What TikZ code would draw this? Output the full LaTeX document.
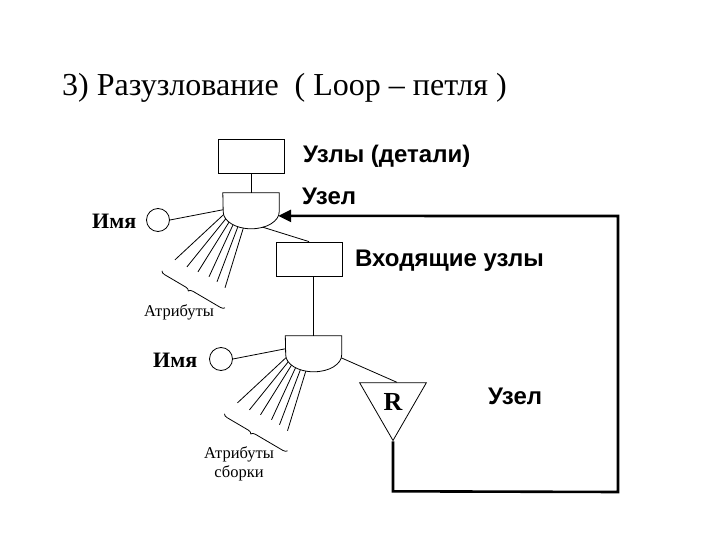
\documentclass[tikz,border=0pt]{standalone}
\usepackage{fontspec}
\setmainfont{Liberation Serif}
\setsansfont{Liberation Sans}
\usetikzlibrary{
  arrows.meta,
  shapes.geometric,
  positioning,
  calc,
  decorations.pathreplacing
}

\begin{document}
\begin{tikzpicture}[x=1pt, y=1pt,
  thin line/.style={line width=0.8pt},
  kasten/.style={draw, thin line, minimum width=66pt, minimum height=34pt, inner sep=0pt},
  uzel/.style={minimum width=56pt, minimum height=36pt, inner sep=0pt},
  imja/.style={draw, thin line, circle, minimum size=23pt, inner sep=0pt},
  rtri/.style={draw, thin line, regular polygon, regular polygon sides=3, shape border rotate=180,
    minimum size=77pt, inner sep=0pt, font=\fontsize{26}{26}\selectfont\bfseries},
  beschr/.style={font=\fontsize{24}{24}\selectfont\sffamily\bfseries, anchor=base west, inner sep=0pt},
  namelbl/.style={font=\fontsize{22}{22}\selectfont\bfseries, anchor=base west, inner sep=0pt},
  attrlbl/.style={font=\fontsize{16.5}{16.5}\selectfont, anchor=base, inner sep=0pt},
  klammer/.style={thin line, decorate, decoration={brace, mirror, amplitude=4pt, aspect=0.45}},
  ruecklauf/.style={line width=2.6pt}
]
  \useasboundingbox (0,0) rectangle (720,-540);

  % title
  \node[font=\fontsize{32}{32}\selectfont, anchor=base west, inner sep=0pt] (titel) at (62,-96)
    {3) Разузлование\ \ ( Loop -- петля )};

  % upper part
  \node[kasten] (k1) at (251,-156) {};
  \node[uzel] (u1) at (251,-211) {};
  \draw[thin line] (u1.north west) -- (u1.north east) -- ++(0,-19)
    arc[start angle=0, end angle=-180, x radius=28, y radius=17] -- cycle;
  \coordinate (u1c) at ($(u1.north)+(0,-19)$);
  \draw[thin line] (k1.south) -- (u1.north);
  \node[imja] (i1) at (158,-220) {};
  \draw[thin line] (i1.east) -- ($(u1.north west)+(0,-17)$);
  \node[kasten] (k2) at (309,-259) {};
  \draw[thin line] ($(u1c)+(-65:28 and 17)$) -- (k2.north);

  % lower part
  \node[uzel] (u2) at (313.5,-354) {};
  \draw[thin line] (u2.north west) -- (u2.north east) -- ++(0,-19)
    arc[start angle=0, end angle=-180, x radius=28, y radius=17] -- cycle;
  \coordinate (u2c) at ($(u2.north)+(0,-19)$);
  \draw[thin line] (k2.south -| u2.north) -- (u2.north);
  \node[imja] (i2) at (221,-359) {};
  \draw[thin line] (i2.east) -- ($(u2.north west)+(0,-13)$);
  \node[rtri] (r) at (393,-402) {R};
  \draw[thin line] ($(u2c)+(-10:28 and 17)$) -- ($(r.north)+(4,0)$);

  % attribute fans
  \foreach \u in {u1c,u2c}{
    \foreach \a/\dx/\dy in {-170/-76/-48, -155/-64/-55, -142/-53/-60, -130/-42/-65, -118/-34/-70, -106/-26/-76}{
      \draw[thin line] ($(\u)+(\a:28 and 17)$) -- ($(\u)+(\dx,\dy)$);
    }
    \draw[klammer] ($(\u)+(-89,-59)$) -- ($(\u)+(-26,-96)$);
  }

  % loop back
  \coordinate (eckeA) at ($(r.corner 1) + (0,-50)$);
  \coordinate (eckeB) at (618,-492);
  \coordinate (eckeC) at (618,-216);
  \draw[ruecklauf, -{Triangle[length=13pt, width=12pt]}]
    (r.corner 1) -- (eckeA) -- (eckeB) -- (eckeC) -- ($(u1c)+(-14:28 and 17)$);

  % labels
  \node[beschr] (l1) at (303,-163) {Узлы (детали)};
  \node[beschr] (l2) at (302,-205) {Узел};
  \node[beschr] (l3) at (355,-266) {Входящие узлы};
  \node[beschr] (l4) at (488,-404) {Узел};
  \node[namelbl] (n1) at (92,-229) {Имя};
  \node[namelbl] (n2) at (153,-367) {Имя};
  \node[attrlbl] (a1) at (179,-316) {Атрибуты};
  \node[attrlbl] (a2) at (239,-458) {Атрибуты};
  \node[attrlbl] (a3) at (239,-477) {сборки};
\end{tikzpicture}
\end{document}
